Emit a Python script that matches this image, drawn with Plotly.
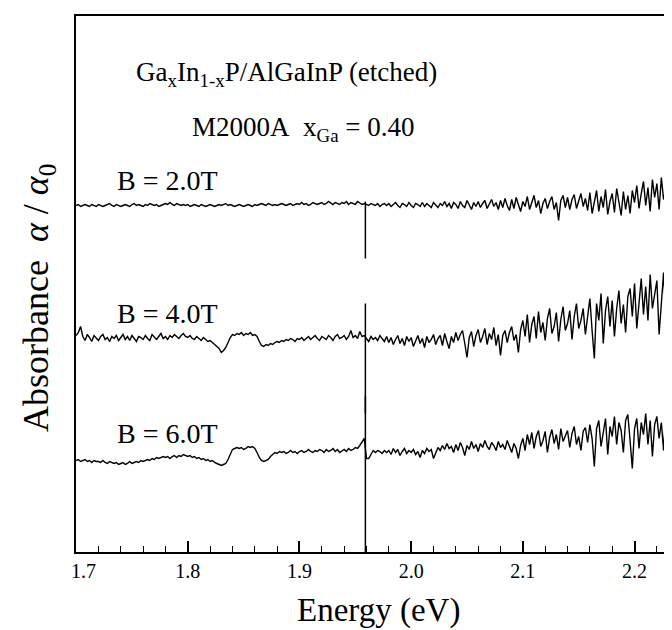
import numpy as np
import plotly.graph_objects as go

# ---------------- data ----------------
# Energy grid of the spectra (eV)
E_START = 1.700
E_STEP = 0.002

FIELDS = ["B = 2.0T", "B = 4.0T", "B = 6.0T"]
# vertical offsets used to stack the spectra (arb. units x 0.01)
OFFSETS = [346.5, 213.5, 93.5]

# absorbance deviations from each offset (arb. units x 0.01), one value per grid point
DEV_2T = [
    0, 1, -1, 0, 1, 0, -1, 1, 0, -1,
    1, 0, -1, 0, 1, 2, 0, -1, 1, 0,
    -1, 0, 1, 0, -1, 1, 2, 0, 1, 0,
    -1, 1, 0, 2, 1, 0, 1, -1, 0, 1,
    2, 1, 3, 1, 0, 2, 1, 0, 1, 0,
    1, -1, 0, 1, 0, -1, 1, 0, -1, 0,
    1, 0, -1, 0, 1, 0, 1, 2, 0, 1,
    0, -1, 0, 1, 0, -1, 0, 1, 0, -1,
    1, 0, 1, 2, 1, 0, 2, 1, 0, 1,
    0, 1, 2, 1, 0, 1, 2, 0, 1, 2,
    1, 3, 1, 2, 0, 1, 3, 2, 1, 2,
    3, 1, 2, 4, 2, 1, 3, 2, 1, 3,
    2, 4, 1, 3, 2, 1, 4, 2, 1, 2,
    1, 0, 2, 1, 0, 2, -1, 1, 2, 0,
    2, -1, 1, 3, 0, -2, 2, 1, -1, 3,
    0, -2, 2, 1, -1, 3, -1, 2, 0, -2,
    3, 1, -2, 2, 0, 4, -1, 2, -3, 3,
    1, -3, 4, 0, -2, 5, 1, -4, 3, -1,
    4, -2, 2, 5, -3, 1, 6, -1, 3, -4,
    5, -2, 7, 0, -5, 6, -3, 8, 1, -6,
    4, -1, 9, -4, 3, 10, -2, 5, -8, 2,
    7, -3, 4, 9, -4, 3, -15, 5, 10, -2,
    8, -4, 6, 11, -3, 4, 12, -1, 7, -5,
    13, -8, 5, 15, -6, 9, -2, 16, -9, 4,
    12, -7, 17, 2, -10, 14, -4, 10, -8, 15,
    3, 20, -3, 12, 24, 0, 18, -6, 26, 8,
    22, -4, 28, 6, 16, -8, 30, 10, 24, -2,
    18,
]

DEV_4T = [
    3, 6, 12, 2, -2, 4, 1, -3, 3, 0,
    -2, 2, 4, -1, 1, -3, 2, 0, 3, -2,
    1, 4, -1, 2, -2, 3, 0, -3, 2, 1,
    -1, 3, 0, -2, 4, 1, -1, 2, 5, 0,
    2, -1, 3, 1, 4, 2, 0, 3, 5, 2,
    1, 3, 0, -1, 2, 0, -2, 1, -1, -3,
    -2, -4, -6, -8, -10, -14, -12, -9, -4, 1,
    4, 3, 5, 4, 6, 3, 5, 4, 6, 3,
    4, 2, -3, -7, -8, -6, -7, -5, -6, -4,
    -3, -4, -2, -3, -1, -2, 0, -1, -3, 0,
    -1, 1, -2, 0, 2, -1, 1, 3, 0, -2,
    2, 0, -1, 3, 1, -2, 2, 4, 0, 1,
    3, -1, 2, 8, 1, 3, 0, 7, 2, 3,
    0, -3, 2, -1, 1, -2, 3, 0, -3, 2,
    -4, 1, -6, -1, 3, -5, 0, -7, 2, -3,
    1, -8, -2, 3, -5, 0, -9, 2, -4, -1,
    4, -6, 0, 3, -7, 5, -3, -10, 2, -4,
    6, -2, 4, 8, -5, -19, 1, 7, -8, 3,
    9, -4, 2, 10, -6, 5, -1, 11, -7, 4,
    -17, 3, 8, -4, 6, 12, -2, 4, -14, 9,
    18, 2, 24, -4, 14, 22, 0, 27, 6, 16,
    -2, 20, 30, 5, 12, 26, -3, 19, 32, 8,
    15, 28, -1, 22, 35, 10, 18, 30, 4, 25,
    40, 8, -20, 35, 18, 45, -5, 28, 42, 12,
    38, 2, 30, 48, 15, 34, 6, 42, 50, 22,
    55, 10, 40, 60, 24, 52, 18, 64, 30, 46,
    58, 4, 40, 66, 22, 54, 12, 60, 82, 20,
    48,
]

DEV_6T = [
    -2, -1, -3, -2, -1, -3, -2, -4, -2, -3,
    -3, -4, -2, -4, -5, -3, -4, -5, -4, -6,
    -5, -4, -6, -5, -3, -5, -4, -3, -4, -2,
    -3, -2, -1, -2, 0, -1, 1, 0, 1, 2,
    1, 2, 0, 2, 3, 1, 3, 2, 4, 3,
    2, 3, 1, 2, 0, 1, -1, 0, -2, -1,
    -3, -2, -4, -5, -6, -7, -6, -5, -1, 4,
    9, 10, 11, 10, 11, 9, 10, 12, 11, 12,
    10, 6, 1, -2, -3, -2, -1, 2, 4, 6,
    5, 7, 6, 7, 5, 6, 8, 6, 7, 5,
    7, 8, 6, 7, 9, 7, 6, 8, 7, 9,
    8, 6, 9, 7, 8, 10, 7, 9, 6, 8,
    9, 7, 10, 8, 9, 11, 10, 13, 16, 20,
    0, 0, 4, 8, 6, 8, 7, 5, 8, 6,
    8, 4, 10, 6, 9, 3, 7, 10, 5, 8,
    6, 9, 4, 7, 1, 8, 5, 10, 7, 9,
    0, 6, 11, 8, 13, 9, 15, 10, 12, 6,
    14, 8, 16, 11, 3, 13, 9, 17, 10, 14,
    7, 15, 11, 18, 12, 9, 16, 13, 8, 17,
    11, 14, 9, 18, 12, 6, 15, 10, 0, 13,
    20, 8, 24, 14, 26, 10, 22, 28, 12, 18,
    27, 6, 21, 29, 15, 24, 9, 30, 17, 23,
    28, 11, 25, 32, 14, 22, 8, 27, 31, 16,
    34, 20, -8, 30, 38, 12, 26, 40, 4, 32,
    22, 42, 14, 36, 28, 6, 38, 44, 18, -10,
    30, 40, 10, 36, 24, 45, 14, 38, 2, 34,
    42, 20, 36, 8, 48, 28, -10, 40, 30, 52,
    16,
]

DEVS = [DEV_2T, DEV_4T, DEV_6T]

# sharp artefact line at 1.959 eV: low / high excursion from each offset
SPIKE_E = 1.959
SPIKE_LOW = [-53, -75, -110]
SPIKE_HIGH = [4, 35, 62]

TICK_VALS = [1.7, 1.8, 1.9, 2.0, 2.1, 2.2]
TICK_TEXT = ["\u00a0\u00a0\u00a01.7", "1.8", "1.9", "2.0", "2.1", "2.2"]

# ---------------- figure ----------------
FONT = "Liberation Serif"
fig = go.Figure()

for off, dev, lo, hi in zip(OFFSETS, DEVS, SPIKE_LOW, SPIKE_HIGH):
    e = E_START + E_STEP * np.arange(len(dev))
    y = off + np.asarray(dev, dtype=float)
    fig.add_trace(go.Scatter(x=e, y=y, mode="lines",
                             line=dict(color="black", width=1.4),
                             showlegend=False, hoverinfo="skip"))
    fig.add_trace(go.Scatter(x=[SPIKE_E, SPIKE_E], y=[off + lo, off + hi],
                             mode="lines", line=dict(color="black", width=1.5),
                             showlegend=False, hoverinfo="skip"))

# field labels, placed just above each spectrum
label_x = 1.735
label_dy = 25
for name, off in zip(FIELDS, OFFSETS):
    fig.add_annotation(x=label_x, y=off + label_dy, xref="x", yref="y",
                       text=name, showarrow=False, xanchor="left", yanchor="middle",
                       font=dict(family=FONT, size=28, color="black"))

fig.add_annotation(x=(126 - 68) / 604, y=(544 - 66) / 536, xref="paper", yref="paper",
                   text="Ga<sub>x</sub>In<sub>1-x</sub>P/AlGaInP (etched)",
                   showarrow=False, xanchor="left", yanchor="middle",
                   font=dict(family=FONT, size=27, color="black"))
fig.add_annotation(x=(182 - 68) / 604, y=(544 - 121) / 536, xref="paper", yref="paper",
                   text="M2000A\u00a0\u00a0x<sub>Ga</sub> = 0.40",
                   showarrow=False, xanchor="left", yanchor="middle",
                   font=dict(family=FONT, size=27, color="black"))

# axis titles
fig.add_annotation(x=0.5, y=(544 - 602) / 536, xref="paper", yref="paper",
                   text="Energy (eV)", showarrow=False,
                   xanchor="center", yanchor="middle",
                   font=dict(family=FONT, size=33, color="black"))
fig.add_annotation(x=(30 - 68) / 604, y=(544 - 290) / 536, xref="paper", yref="paper",
                   text="Absorbance\u00a0\u00a0<i>α</i> / <i>α</i><sub>0</sub>",
                   textangle=-90, showarrow=False,
                   xanchor="center", yanchor="middle",
                   font=dict(family=FONT, size=36, color="black"))

fig.update_layout(
    width=672, height=630,
    margin=dict(l=68, r=0, t=8, b=86),
    paper_bgcolor="white", plot_bgcolor="white",
    showlegend=False,
    xaxis=dict(
        range=[1.6999, 2.2407],
        tickmode="array", tickvals=TICK_VALS, ticktext=TICK_TEXT,
        ticks="inside", ticklen=11, tickwidth=1.5, tickcolor="black",
        minor=dict(tickmode="linear", tick0=1.7, dtick=0.02, ticks="inside",
                   ticklen=6, tickwidth=1.3, tickcolor="black", showgrid=False),
        tickfont=dict(family=FONT, size=20, color="black"),
        showline=True, linewidth=2, linecolor="black", mirror=True,
        showgrid=False, zeroline=False,
    ),
    yaxis=dict(
        range=[0, 536],
        showticklabels=False, ticks="",
        showline=True, linewidth=2, linecolor="black", mirror=False,
        showgrid=False, zeroline=False,
    ),
)

fig.write_html("out.html")
